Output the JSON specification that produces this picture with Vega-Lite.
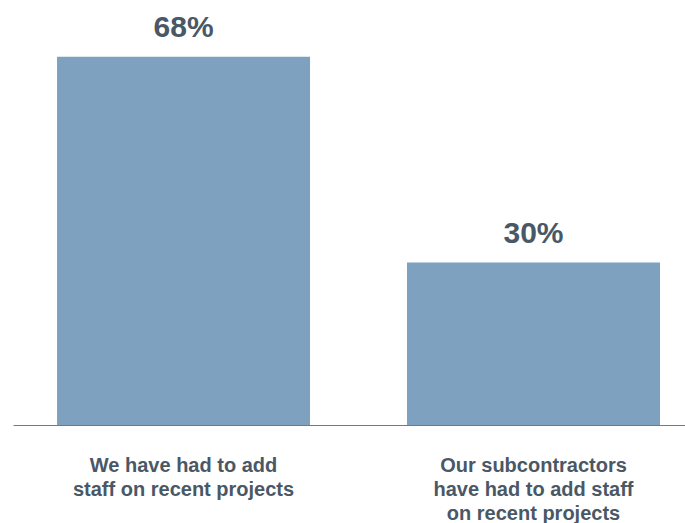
{
  "$schema": "https://vega.github.io/schema/vega-lite/v6.json",
  "width": 672,
  "height": 425,
  "padding": {"left": 13, "top": 0, "right": 0, "bottom": 98},
  "autosize": {"type": "none"},
  "background": "white",
  "config": {"view": {"stroke": null}},
  "data": {
    "values": [
      {"category": "We have had to add|staff on recent projects", "value": 68, "label": "68%"},
      {"category": "Our subcontractors|have had to add staff|on recent projects", "value": 30, "label": "30%"}
    ]
  },
  "encoding": {
    "x": {
      "field": "category",
      "type": "nominal",
      "sort": null,
      "scale": {"paddingInner": 0.2771, "paddingOuter": 0.0986, "align": 0.638},
      "axis": {
        "title": null,
        "ticks": false,
        "labelAngle": 0,
        "labelExpr": "split(datum.value, '|')",
        "labelFont": "Liberation Sans",
        "labelFontWeight": "bold",
        "labelFontSize": 20,
        "labelColor": "#4a5866",
        "labelLineHeight": 24,
        "labelBaseline": "alphabetic",
        "labelPadding": 46,
        "labelAlign": "center",
        "labelLimit": 0,
        "labelOverlap": false,
        "domainColor": "#6f7a86",
        "domainWidth": 1.2,
        "grid": false
      }
    },
    "y": {
      "field": "value",
      "type": "quantitative",
      "scale": {"domain": [0, 78.5], "nice": false, "zero": true},
      "axis": null
    }
  },
  "layer": [
    {"mark": {"type": "bar", "color": "#7fa1c0"}},
    {
      "mark": {
        "type": "text",
        "font": "Liberation Sans",
        "fontWeight": "bold",
        "fontSize": 30,
        "color": "#4a5866",
        "baseline": "alphabetic",
        "dy": -20
      },
      "encoding": {"text": {"field": "label"}}
    }
  ]
}
